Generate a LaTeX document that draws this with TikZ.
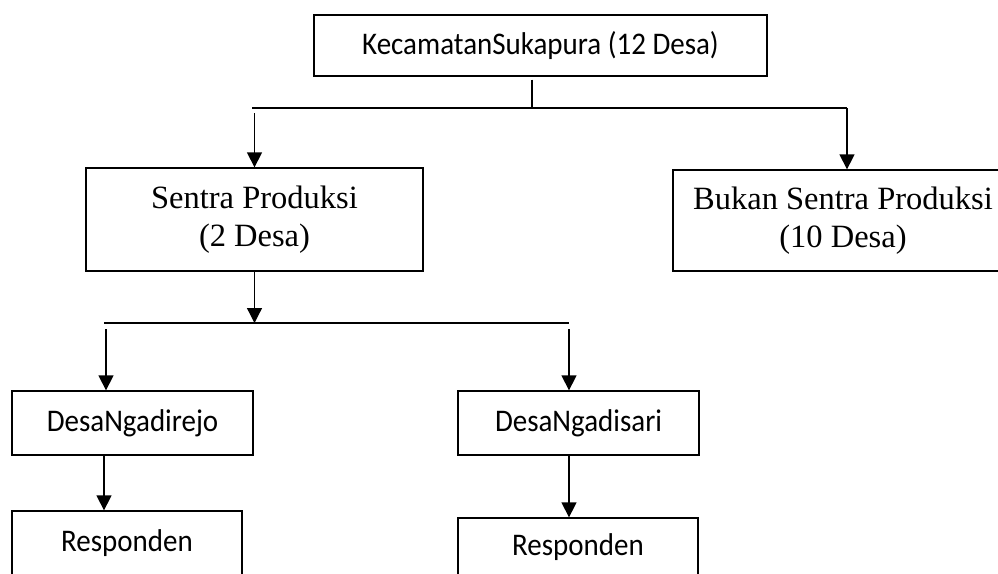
\documentclass[tikz,border=0pt]{standalone}
\usepackage{fontspec}
\setmainfont{Liberation Serif}
\newfontfamily\calibri[FakeStretch=0.92]{Carlito}
\usetikzlibrary{arrows.meta, positioning, calc}

\begin{document}
\begin{tikzpicture}[
  x=1pt, y=-1pt,
  box/.style={draw, line width=1.3pt, inner sep=0pt, align=center},
  sbox/.style={box, font=\calibri\fontsize{31.5}{36}\selectfont},
  rbox/.style={box, font=\fontsize{32.5}{38}\selectfont},
  arr/.style={-{Triangle[length=15pt, width=15pt]}, line width=1.3pt},
  ln/.style={line width=1.3pt}
]
\useasboundingbox (0,0) rectangle (998,573);
\clip (0,0) rectangle (998,573);
\node[sbox, minimum width=453pt, minimum height=61pt] (kec) at (540.5,45.5) {KecamatanSukapura (12 Desa)};
\node[rbox, minimum width=337pt, minimum height=103pt] (sentra) at (254.5,219.5) {Sentra Produksi\\(2 Desa)};
\node[rbox, minimum width=340pt, minimum height=101pt] (bukan) at (843,220.5) {Bukan Sentra Produksi\\(10 Desa)};
\node[sbox, minimum width=241pt, minimum height=64pt] (ngadirejo) at (132.5,423) {DesaNgadirejo};
\node[sbox, minimum width=241pt, minimum height=64pt] (ngadisari) at (578.5,423) {DesaNgadisari};
\node[sbox, minimum width=230pt, minimum height=64pt] (resp1) at (127,543) {Responden};
\node[sbox, minimum width=240pt, minimum height=58pt] (resp2) at (578,547) {Responden};
\coordinate (split) at (532,108);
\coordinate (tl) at (252,108);
\coordinate (tr) at (847,108);
\coordinate (bl) at (104,323);
\coordinate (br) at (569,323);
\draw[ln] (kec.south -| split) ++(0,3) -- (split);
\draw[ln] (tl) -- (tr);
\draw[arr, shorten <=5pt] (sentra.north |- tl) -- (sentra.north);
\draw[arr] (tr) -- (tr |- bukan.north);
\draw[arr] (sentra.south) -- (sentra.south |- bl);
\draw[ln] (bl) -- (br);
\draw[arr, shorten <=6pt] (bl) ++(2,0) -- (ngadirejo.north -| 106,0);
\draw[arr, shorten <=6pt] (br) -- (br |- ngadisari.north);
\draw[arr] (ngadirejo.south -| bl) -- (resp1.north -| bl);
\draw[arr] (ngadisari.south -| br) -- (resp2.north -| br);
\end{tikzpicture}
\end{document}
